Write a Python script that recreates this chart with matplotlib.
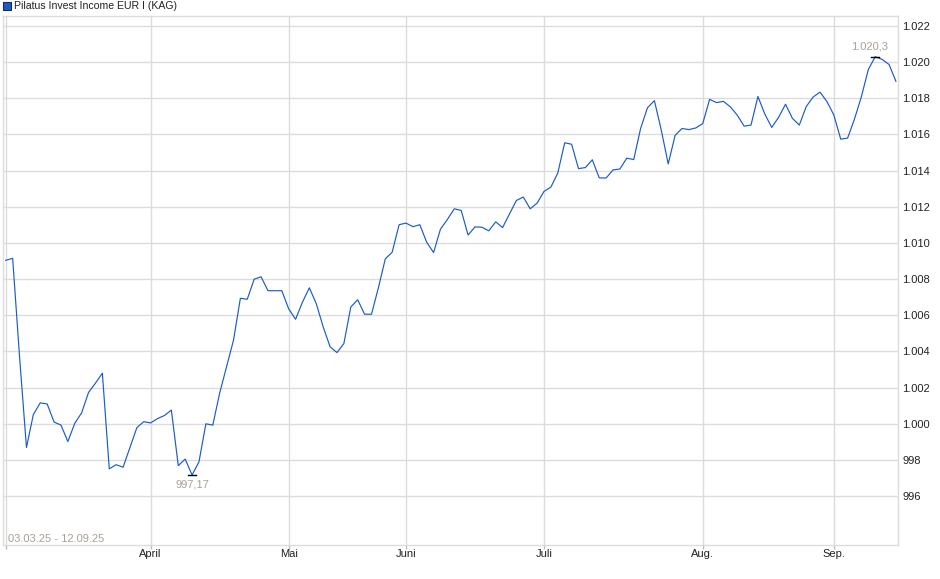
import numpy as np
import matplotlib
matplotlib.use("Agg")
import matplotlib.pyplot as plt
from matplotlib.patches import Rectangle

plt.rcParams['font.family'] = ['Liberation Sans', 'DejaVu Sans']

# daily NAV values, 03.03.25 - 12.09.25 (one per trading day)
values = [
    1009.04, 1009.15, 1003.70, 998.69, 1000.52, 1001.16, 1001.10, 1000.10, 999.93, 999.02,
    1000.03, 1000.61, 1001.74, 1002.25, 1002.80, 997.51, 997.74, 997.60, 998.69, 999.79,
    1000.12, 1000.05, 1000.29, 1000.46, 1000.76, 997.69, 998.05, 997.17, 997.90, 1000.00,
    999.93, 1001.70, 1003.16, 1004.62, 1006.94, 1006.89, 1008.00, 1008.13, 1007.36, 1007.36,
    1007.36, 1006.36, 1005.78, 1006.73, 1007.52, 1006.64, 1005.36, 1004.26, 1003.94, 1004.44,
    1006.46, 1006.86, 1006.06, 1006.06, 1007.52, 1009.12, 1009.49, 1011.01, 1011.10, 1010.90,
    1011.01, 1010.04, 1009.47, 1010.77, 1011.30, 1011.89, 1011.80, 1010.44, 1010.89, 1010.87,
    1010.67, 1011.17, 1010.85, 1011.61, 1012.35, 1012.54, 1011.89, 1012.20, 1012.85, 1013.09,
    1013.87, 1015.54, 1015.46, 1014.11, 1014.17, 1014.60, 1013.60, 1013.59, 1014.04, 1014.09,
    1014.69, 1014.61, 1016.33, 1017.48, 1017.87, 1016.23, 1014.37, 1015.95, 1016.33, 1016.27,
    1016.36, 1016.60, 1017.94, 1017.76, 1017.83, 1017.53, 1017.07, 1016.46, 1016.52, 1018.10,
    1017.13, 1016.39, 1016.95, 1017.67, 1016.89, 1016.52, 1017.54, 1018.07, 1018.34, 1017.82,
    1017.08, 1015.74, 1015.80, 1016.86, 1018.10, 1019.59, 1020.30, 1020.15, 1019.87, 1018.94,
]

# index of the first trading day of each month
month_idx = [0, 21, 41, 58, 78, 101, 120]
month_labels = ['', 'April', 'Mai', 'Juni', 'Juli', 'Aug.', 'Sep.']

y_ticks = list(range(996, 1023, 2))
title = 'Pilatus Invest Income EUR I (KAG)'
period = '03.03.25 - 12.09.25'

line_col = '#1a5cc8'
grid_col = '#dcdcdc'
note_col = '#a8a095'


def de_fmt(v, dec=0):
    s = f"{v:,.{dec}f}"
    return s.replace(',', 'X').replace('.', ',').replace('X', '.')


x = np.arange(len(values))
y = np.array(values)

fig = plt.figure(figsize=(9.4, 5.79), dpi=100)
ax = fig.add_axes([3 / 940, 1 - 545 / 579, 895 / 940, 529 / 579])

ax.plot(x, y, color=line_col, linewidth=0.85, zorder=3)

ax.set_xlim(-0.4, 129.3)
ax.set_ylim(993.3, 1022.55)

ax.set_yticks(y_ticks)
ax.set_yticklabels([de_fmt(v) for v in y_ticks])
ax.yaxis.tick_right()
ax.tick_params(axis='y', length=0, pad=3, labelsize=8, labelcolor='#222222')

ax.set_xticks(month_idx)
ax.set_xticklabels(month_labels)
ax.tick_params(axis='x', length=3, width=1, color='#bbbbbb', pad=0,
               labelsize=8, labelcolor='#222222')

ax.grid(True, color=grid_col, linewidth=1.0, zorder=0)
for sp in ax.spines.values():
    sp.set_color(grid_col)
    sp.set_linewidth(1.0)

# min / max markers
i_min = int(np.argmin(y))
i_max = int(np.argmax(y))
ax.plot([i_min - 0.6, i_min + 0.6], [y[i_min], y[i_min]], color='black', linewidth=1, zorder=4)
ax.plot([i_max - 0.6, i_max + 0.6], [y[i_max], y[i_max]], color='black', linewidth=1, zorder=4)
ax.annotate(de_fmt(y[i_min], 2), (i_min, y[i_min]), xytext=(0, -3), textcoords='offset points',
            ha='center', va='top', fontsize=8, color=note_col)
ax.annotate(de_fmt(y[i_max], 1), (i_max, y[i_max]), xytext=(-4, 4), textcoords='offset points',
            ha='center', va='bottom', fontsize=8, color=note_col)

ax.text(0.006, 0.002, period, transform=ax.transAxes, ha='left', va='bottom',
        fontsize=8, color=note_col)

# legend-like title
fig.patches.append(Rectangle((3 / 940, 1 - 10 / 579), 8 / 940, 8 / 579, transform=fig.transFigure,
                             facecolor=line_col, edgecolor='#1a2a50', linewidth=0.8))
fig.text(14 / 940, 1 - 6 / 579, title, ha='left', va='center', fontsize=7.6, color='#222222')

fig.savefig('out.png', dpi=100)
